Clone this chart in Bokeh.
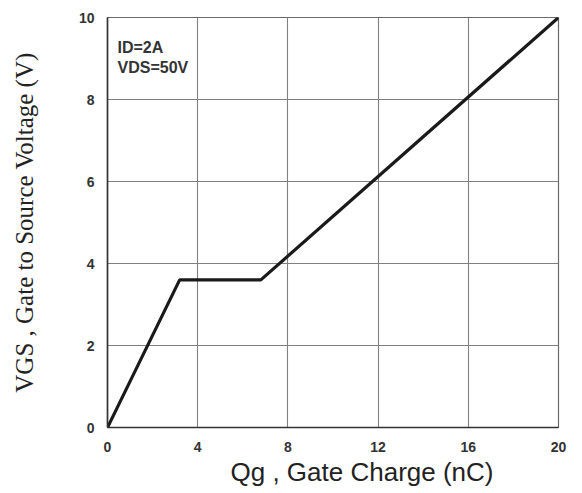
from bokeh.plotting import figure
from bokeh.models import Label, Range1d, FixedTicker, Title
from bokeh.embed import file_html
from bokeh.resources import INLINE

# data
qg = [0.0, 3.2, 6.8, 20.0]          # gate charge (nC)
vgs = [0.0, 3.6, 3.6, 10.0]         # gate-source voltage (V)
x_ticks = [0, 4, 8, 12, 16, 20]
y_ticks = [0, 2, 4, 6, 8, 10]
cond_lines = ["ID=2A", "VDS=50V"]
x_title = "Qg , Gate Charge (nC)"
y_title = "VGS , Gate to Source Voltage (V)"

NARROW = "'Liberation Sans Narrow', 'Liberation Sans', Arial, sans-serif"
SANS = "'Liberation Sans', Arial, sans-serif"
SERIF = "'Liberation Serif', 'Times New Roman', serif"

p = figure(width=574, height=489, output_backend="svg", toolbar_location=None,
           x_range=Range1d(0, 20), y_range=Range1d(0, 10),
           min_border_left=107, min_border_right=16,
           min_border_top=17, min_border_bottom=62,
           background_fill_color="white", border_fill_color="white")

p.outline_line_color = "#6a6a6a"
p.outline_line_width = 1.2

for ax, ticks in ((p.xaxis, x_ticks), (p.yaxis, y_ticks)):
    ax.ticker = FixedTicker(ticks=ticks)
    ax.major_tick_in = 0
    ax.major_tick_out = 0
    ax.minor_tick_line_color = None
    ax.major_tick_line_color = None
    ax.axis_line_color = "#333333"
    ax.axis_line_width = 1.6
    ax.major_label_text_font = NARROW
    ax.major_label_text_font_style = "bold"
    ax.major_label_text_font_size = "14px"
    ax.major_label_text_color = "#333333"

p.xaxis.major_label_standoff = 14
p.yaxis.major_label_standoff = 13

# y title as axis label (centred on the frame like the reference)
p.yaxis.axis_label = y_title
p.yaxis.axis_label_text_font = SERIF
p.yaxis.axis_label_text_font_style = "normal"
p.yaxis.axis_label_text_font_size = "25px"
p.yaxis.axis_label_text_color = "#222222"
p.yaxis.axis_label_standoff = 38

# x title as a left-aligned title below, shifted right
p.add_layout(Title(text=x_title, align="left", offset=123, standoff=0,
                   text_font=SANS, text_font_style="normal",
                   text_font_size="26px", text_color="#222222"), "below")

p.xgrid.ticker = FixedTicker(ticks=x_ticks)
p.ygrid.ticker = FixedTicker(ticks=y_ticks)
for g in (p.xgrid, p.ygrid):
    g.grid_line_color = "#808080"
    g.grid_line_width = 1.1
    g.grid_line_alpha = 1.0

p.line(qg, vgs, line_color="#1a1a1a", line_width=3.2)

# condition text
for i, t in enumerate(cond_lines):
    p.add_layout(Label(x=10, y=389 - i * 20, x_units="screen", y_units="screen",
                       text=t, text_font=NARROW, text_font_style="bold",
                       text_font_size="16px", text_color="#333333",
                       text_baseline="top", text_align="left"))

open("out.html", "w").write(file_html(p, INLINE))
